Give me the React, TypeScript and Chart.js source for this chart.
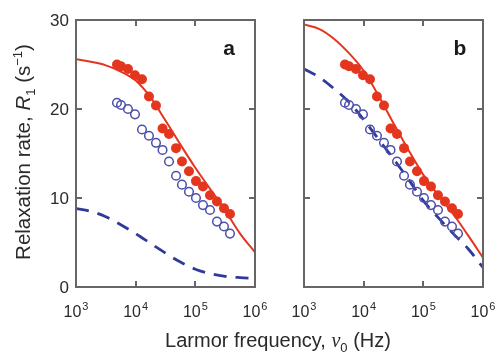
import React, { useEffect, useRef } from "react";
import { Chart, registerables } from "chart.js";

Chart.register(...registerables);

// ---- data ----
const pointFreq = [4860, 5680, 7430, 9740, 12760, 16710, 21900, 28200, 36200, 47500, 59700, 78300, 102500, 134300, 176000, 230600, 302000, 381000];
const filledR1 = [25.0, 24.8, 24.5, 23.8, 23.35, 21.4, 20.4, 17.8, 17.2, 15.6, 14.1, 13.0, 11.9, 11.3, 10.3, 9.6, 8.85, 8.2];
const openR1 = [20.7, 20.45, 20.0, 19.4, 17.7, 17.0, 16.2, 15.4, 14.1, 12.5, 11.5, 10.7, 10.0, 9.2, 8.65, 7.35, 6.8, 6.0];

const curveFreq = [1000, 1778, 3162, 5623, 10000, 17783, 31623, 56234, 100000, 177828, 316228, 562341, 1000000];
const solidA = [25.6, 25.3, 24.9, 24.2, 23.2, 21.3, 18.7, 16.0, 13.4, 11.0, 8.6, 6.0, 3.9];
const dashedA = [8.8, 8.5, 7.9, 7.0, 6.0, 4.9, 3.8, 2.8, 2.0, 1.5, 1.2, 1.05, 0.95];
const solidB = [29.5, 29.0, 27.9, 26.3, 24.3, 21.5, 18.4, 15.4, 12.6, 10.3, 8.2, 5.8, 3.3];
const dashedB = [24.5, 23.6, 22.3, 20.8, 18.8, 16.6, 14.4, 12.1, 9.7, 7.8, 6.0, 4.3, 2.2];

const xTickValues = [1e3, 1e4, 1e5, 1e6];
const xTickExps = ["3", "4", "5", "6"];
const xInnerTicks = [1e4, 1e5];
const yTickValues = [0, 10, 20, 30];
const yInnerTicks = [10, 20];

const RED = "#e4361f";
const BLUE = "#2f3a9c";
const OPEN = "#4d4fab";
const FRAME = "#666666";
const TEXT = "#2a2a2a";
const W = 497;
const H = 352;

type PanelSpec = {
  left: number;
  right: number;
  solid: number[];
  dashed: number[];
  letter: string;
  letterX: number;
  showY: boolean;
};

const panels: PanelSpec[] = [
  { left: 76, right: 255, solid: solidA, dashed: dashedA, letter: "a", letterX: 229, showY: true },
  { left: 304, right: 483, solid: solidB, dashed: dashedB, letter: "b", letterX: 460, showY: false },
];

function makePlugin(spec: PanelSpec) {
  return {
    id: "frame_" + spec.letter,
    afterDatasetsDraw(chart: any) {
      const ctx = chart.ctx as CanvasRenderingContext2D;
      const { left, right, top, bottom } = chart.chartArea;
      const xs = chart.scales.x;
      const ys = chart.scales.y;
      ctx.save();
      ctx.strokeStyle = FRAME;
      ctx.lineWidth = 2;
      ctx.strokeRect(left, top, right - left, bottom - top);
      ctx.beginPath();
      for (const v of xInnerTicks) {
        const px = Math.round(xs.getPixelForValue(v));
        ctx.moveTo(px, bottom);
        ctx.lineTo(px, bottom - 6);
        ctx.moveTo(px, top);
        ctx.lineTo(px, top + 6);
      }
      for (const v of yInnerTicks) {
        const py = Math.round(ys.getPixelForValue(v));
        ctx.moveTo(left, py);
        ctx.lineTo(left + 6, py);
        ctx.moveTo(right, py);
        ctx.lineTo(right - 6, py);
      }
      ctx.stroke();

      // x tick labels
      ctx.fillStyle = TEXT;
      ctx.textBaseline = "alphabetic";
      ctx.textAlign = "left";
      xTickValues.forEach((v, i) => {
        const px = xs.getPixelForValue(v);
        ctx.font = '16px "Liberation Sans", Arial, sans-serif';
        const w1 = ctx.measureText("10").width;
        ctx.font = '11px "Liberation Sans", Arial, sans-serif';
        const w2 = ctx.measureText(xTickExps[i]).width;
        const start = px - (w1 + w2 + 1) / 2;
        ctx.font = '16px "Liberation Sans", Arial, sans-serif';
        ctx.fillText("10", start, 317);
        ctx.font = '11px "Liberation Sans", Arial, sans-serif';
        ctx.fillText(xTickExps[i], start + w1 + 1, 310);
      });

      // y tick labels
      if (spec.showY) {
        ctx.font = '17px "Liberation Sans", Arial, sans-serif';
        ctx.textAlign = "right";
        ctx.textBaseline = "middle";
        for (const v of yTickValues) {
          const py = ys.getPixelForValue(v);
          ctx.fillText(String(v), 69, py + 1);
        }
      }

      // panel letter
      ctx.font = 'bold 21px "Liberation Sans", Arial, sans-serif';
      ctx.textAlign = "center";
      ctx.textBaseline = "alphabetic";
      ctx.fillStyle = "#1a1a1a";
      ctx.fillText(spec.letter, spec.letterX, 55);
      ctx.restore();
    },
  };
}

function Panel({ spec }: { spec: PanelSpec }) {
  const ref = useRef<HTMLCanvasElement | null>(null);
  useEffect(() => {
    if (!ref.current) return;
    const chart = new Chart(ref.current, {
      type: "line",
      data: {
        datasets: [
          {
            data: pointFreq.map((f, i) => ({ x: f, y: filledR1[i] })),
            showLine: false,
            pointRadius: 5,
            pointBackgroundColor: RED,
            pointBorderColor: RED,
            pointBorderWidth: 0,
            borderColor: RED,
          },
          {
            data: pointFreq.map((f, i) => ({ x: f, y: openR1[i] })),
            showLine: false,
            pointRadius: 4.3,
            pointBackgroundColor: "rgba(255,255,255,0)",
            pointBorderColor: OPEN,
            pointBorderWidth: 1.5,
            borderColor: OPEN,
          },
          {
            data: curveFreq.map((f, i) => ({ x: f, y: spec.solid[i] })),
            borderColor: RED,
            borderWidth: 2,
            pointRadius: 0,
            cubicInterpolationMode: "monotone",
            fill: false,
          },
          {
            data: curveFreq.map((f, i) => ({ x: f, y: spec.dashed[i] })),
            borderColor: BLUE,
            borderWidth: 2.8,
            borderDash: [13, 9],
            pointRadius: 0,
            cubicInterpolationMode: "monotone",
            fill: false,
          },
        ],
      } as any,
      options: {
        responsive: false,
        maintainAspectRatio: false,
        animation: false,
        events: [],
        layout: { padding: { left: spec.left, right: W - spec.right, top: 20, bottom: H - 287 } },
        scales: {
          x: { type: "logarithmic", min: 1e3, max: 1e6, display: false },
          y: { type: "linear", min: 0, max: 30, display: false },
        },
        plugins: { legend: { display: false }, tooltip: { enabled: false } },
      } as any,
      plugins: [makePlugin(spec)],
    });
    return () => chart.destroy();
  }, [spec]);
  return (
    <canvas
      ref={ref}
      width={W}
      height={H}
      style={{ position: "absolute", left: 0, top: 0, width: W, height: H }}
    />
  );
}

export default function App() {
  const font = '"Liberation Sans", Arial, sans-serif';
  return (
    <div
      style={{
        position: "absolute",
        left: 0,
        top: 0,
        width: W,
        height: H,
        background: "#ffffff",
        overflow: "hidden",
        fontFamily: font,
        color: TEXT,
      }}
    >
      {panels.map((p) => (
        <Panel key={p.letter} spec={p} />
      ))}
      <div
        style={{
          position: "absolute",
          left: 78,
          top: 330,
          width: 400,
          height: 20,
          lineHeight: "20px",
          fontSize: 20,
          textAlign: "center",
          whiteSpace: "nowrap",
        }}
      >
        Larmor frequency,{" "}
        <span style={{ fontFamily: '"Liberation Serif", serif', fontStyle: "italic" }}>ν</span>
        <span style={{ fontSize: 13, position: "relative", top: 5, lineHeight: 0 }}>0</span> (Hz)
      </div>
      <div
        style={{
          position: "absolute",
          left: 22.9 - 130,
          top: 151.5 - 11,
          width: 260,
          height: 22,
          lineHeight: "22px",
          fontSize: 20.5,
          textAlign: "center",
          whiteSpace: "nowrap",
          transform: "rotate(-90deg)",
        }}
      >
        Relaxation rate, <i>R</i>
        <span style={{ fontSize: 13, position: "relative", top: 5, lineHeight: 0 }}>1</span> (s
        <span style={{ fontSize: 13, position: "relative", top: -8, lineHeight: 0 }}>−1</span>)
      </div>
    </div>
  );
}
